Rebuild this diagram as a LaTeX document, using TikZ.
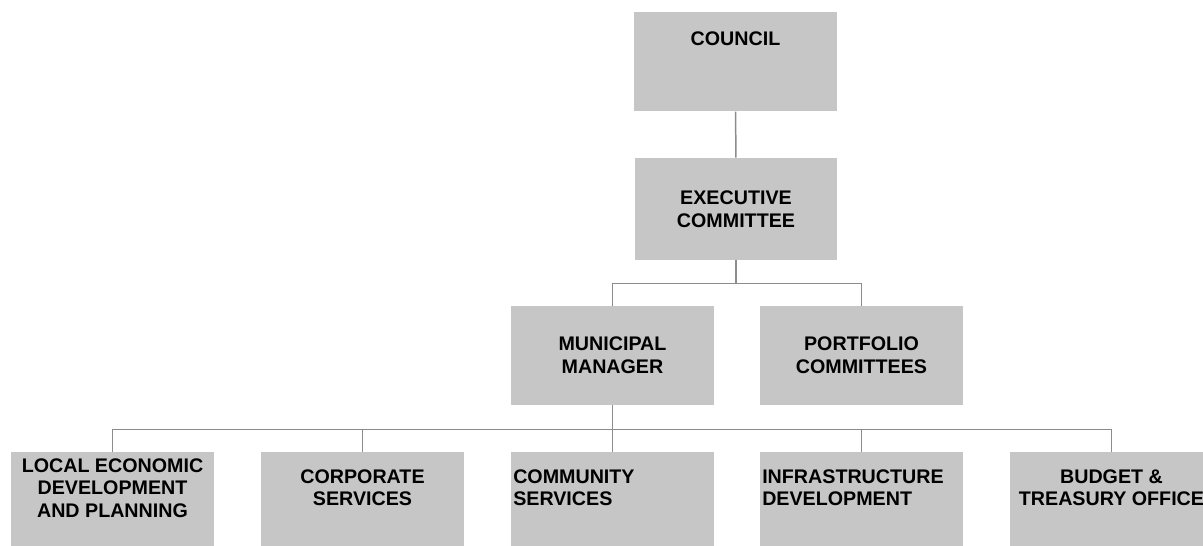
\documentclass[tikz,border=0pt]{standalone}
\usepackage{fontspec}
\setmainfont{Liberation Sans}
\usepackage{xcolor}
\usetikzlibrary{calc}

\definecolor{boxgray}{HTML}{C6C6C6}
\definecolor{linkgray}{HTML}{8C8C8C}

\tikzset{
  box/.style={fill=boxgray, minimum width=4.05cm, inner xsep=2pt, align=center,
    font=\fontsize{11.2}{13}\selectfont\bfseries},
  hangbox/.style={box, anchor=north, text depth=2.6cm, inner ysep=#1},
  leftbox/.style={hangbox=#1, align=left, text width=3.97cm, inner xsep=0.04cm},
  link/.style={draw=linkgray, line width=0.85pt}
}

\begin{document}
\begin{tikzpicture}
\useasboundingbox (0,0) rectangle (24.06,-10.92);
\clip (0,0) rectangle (24.06,-10.92);

\node[box, anchor=north, text height=0.28cm, text depth=0.94cm, inner ysep=0.38cm] (council) at (14.71,-0.24) {COUNCIL};
\node[box, minimum height=2.04cm] (exec) at (14.72,-4.18) {EXECUTIVE\\COMMITTEE};

\node[box, minimum height=1.98cm] (mm) at (12.25,-7.11) {MUNICIPAL\\MANAGER};
\node[box, minimum height=1.98cm] (pc) at (17.23,-7.11) {PORTFOLIO\\COMMITTEES};

\node[hangbox=0.12cm] (led) at (2.25,-9.04) {LOCAL ECONOMIC\\DEVELOPMENT\\AND PLANNING};
\node[hangbox=0.34cm] (corp) at (7.25,-9.04) {CORPORATE\\SERVICES};
\node[leftbox=0.34cm] (comm) at (12.25,-9.04) {COMMUNITY\\SERVICES};
\node[leftbox=0.34cm] (infra) at (17.23,-9.04) {INFRASTRUCTURE\\DEVELOPMENT};
\node[hangbox=0.34cm] (budget) at (22.23,-9.04) {BUDGET \&\\TREASURY OFFICE};

\draw[link] (council) -- (exec);

\draw[link] (exec.south) -- ++(0,-0.46) coordinate (fork);
\draw[link] (mm.north) |- (fork) -| (pc.north);

\draw[link] (mm.south) -- ++(0,-0.48) coordinate (fan);
\draw[link] (led.north) |- (fan) -| (budget.north);
\draw[link] (corp.north) -- (corp.north |- fan);
\draw[link] (fan) -- (comm.north);
\draw[link] (infra.north) -- (infra.north |- fan);
\end{tikzpicture}
\end{document}
